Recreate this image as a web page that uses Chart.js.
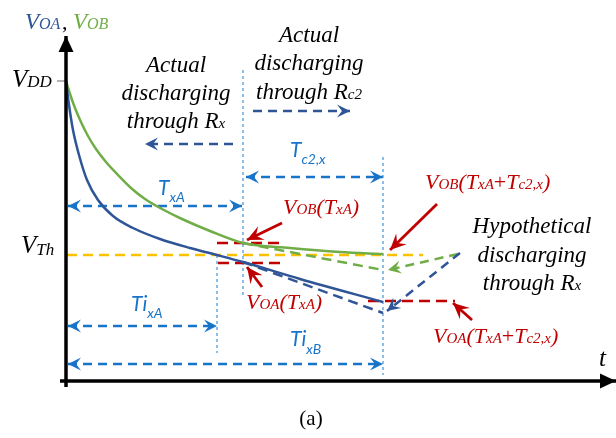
<!DOCTYPE html>
<html><head><meta charset="utf-8">
<script src="https://cdn.jsdelivr.net/npm/chart.js@4"></script>
<style>html,body{margin:0;padding:0;background:#fff;overflow:hidden}</style>
</head><body>
<canvas id="c" width="616" height="438"></canvas>
<script>
// ---- data (time t, voltage v in diagram units) ----
const curveA_t = [0, 3, 7, 13, 21, 32, 47, 67, 94, 124, 151, 177, 234, 317];
const curveA_v = [300, 276, 251, 226, 201, 181, 165, 153, 142, 133, 126, 119, 102, 79];
const curveB_t = [0, 4, 9, 15, 22, 30, 40, 52, 65, 79, 96, 116, 144, 177, 224, 274, 317];
const curveB_v = [300, 287, 273, 259, 245, 232, 219, 206, 193, 182, 172, 162, 150, 138, 133, 129, 127];
const hypoA_t = [177, 317];
const hypoA_v = [119, 68];
const hypoB_t = [177, 317];
const hypoB_v = [138, 111];
const VDD = 300;
const VTH = 126;
const T_XA = 177;      // end of discharge through Rx
const T_END = 317;     // T_xA + T_c2,x
const TI_XA = 151;     // crossing of V_Th by V_OA
const VOB_TXA = 138;
const VOA_TXA = 118;
const VOA_END = 80;
const tickValues = [VDD, VTH];
const tickLabels = ['VDD', 'VTh'];

const COL = {blue:'#2F5597', green:'#70AD47', lblue:'#1874C9', vline:'#3F95DC', red:'#C00000', yellow:'#FFC000'};

function pts(ts, vs){ return ts.map((t,i)=>({x:t, y:vs[i]})); }
function seg(a){ return a.map(p=>({x:p[0], y:p[1]})); }
function ds(data, color, width, dash, extra){
  return Object.assign({data, borderColor:color, backgroundColor:color, borderWidth:width,
    borderDash:dash||[], showLine:true, pointRadius:0, pointHoverRadius:0, tension:0, fill:false}, extra||{});
}

const datasets = [
  // axes
  ds(seg([[0,-6],[0,345]]), '#000', 3.5, [], {arrow:'tri'}),
  ds(seg([[-6,0],[550,0]]), '#000', 3.5, [], {arrow:'tri'}),
  ds(seg([[-9,tickValues[0]],[0,tickValues[0]]]), '#9a9a9a', 1.5),
  // curves
  ds(pts(curveA_t, curveA_v), COL.blue, 2.5, [], {cubicInterpolationMode:'monotone'}),
  ds(pts(curveB_t, curveB_v), COL.green, 2.5, [], {cubicInterpolationMode:'monotone'}),
  ds(pts(hypoA_t, hypoA_v), COL.blue, 2.5, [10,6]),
  ds(pts(hypoB_t, hypoB_v), COL.green, 2.5, [10,6]),
  // threshold
  ds(seg([[1,VTH],[357,VTH]]), COL.yellow, 2.5, [10,6]),
  // red level marks
  ds(seg([[151,VOB_TXA],[217,VOB_TXA]]), COL.red, 2.5, [11,6]),
  ds(seg([[152,VOA_TXA],[219,VOA_TXA]]), COL.red, 2.5, [11,6]),
  ds(seg([[302,VOA_END],[389,VOA_END]]), COL.red, 2.5, [11,6]),
  // vertical guides
  ds(seg([[T_XA,311],[T_XA,86]]), COL.vline, 1.2, [3,3]),
  ds(seg([[TI_XA,VTH],[TI_XA,28]]), COL.vline, 1.2, [3,3]),
  ds(seg([[T_END,224],[T_END,6]]), COL.vline, 1.2, [3,3]),
  // dimension arrows
  ds(seg([[2,175],[T_XA-1,175]]), COL.lblue, 2.5, [9,6], {arrow:'both'}),
  ds(seg([[T_XA+3,204],[T_END,204]]), COL.lblue, 2.5, [9,6], {arrow:'both'}),
  ds(seg([[2,55],[TI_XA,55]]), COL.lblue, 2.5, [9,6], {arrow:'both'}),
  ds(seg([[2,17],[T_END,17]]), COL.lblue, 2.5, [9,6], {arrow:'both'}),
  // direction arrows
  ds(seg([[167,237],[79,237]]), COL.blue, 2.5, [9,6], {arrow:'end'}),
  ds(seg([[187,270],[284,270]]), COL.blue, 2.5, [9,6], {arrow:'end'}),
  ds(seg([[394,128],[321,70]]), COL.blue, 2.5, [9,6], {arrow:'end'}),
  ds(seg([[392,127],[322,111]]), COL.green, 2.5, [9,6], {arrow:'end'}),
  // red pointers
  ds(seg([[216,158],[181,141]]), COL.red, 2.8, [], {arrow:'end', big:true}),
  ds(seg([[196,94],[181,114]]), COL.red, 2.8, [], {arrow:'end', big:true}),
  ds(seg([[371,177],[324,131]]), COL.red, 2.8, [], {arrow:'end', big:true}),
  ds(seg([[406,61],[387,78]]), COL.red, 2.8, [], {arrow:'end', big:true}),
];

function head(ctx, x, y, ang, color, type, big){
  ctx.save();
  ctx.translate(x, y); ctx.rotate(ang);
  ctx.fillStyle = color;
  ctx.beginPath();
  if (type === 'tri') {
    ctx.moveTo(0,0); ctx.lineTo(-16,-7.5); ctx.lineTo(-16,7.5);
  } else {
    const L = big ? 16 : 13, W = big ? 7.5 : 6.5;
    ctx.moveTo(0,0); ctx.lineTo(-L,-W); ctx.lineTo(-L*0.62,0); ctx.lineTo(-L,W);
  }
  ctx.closePath(); ctx.fill();
  ctx.restore();
}

const SERIF = '"Liberation Serif","Times New Roman",serif';
const SANS = 'Lato,"Open Sans",sans-serif';
const I = (t,s,c,dy)=>({t,s,c:c||'#000',dy:dy||0,f:SERIF,st:'italic'});
const N = (t,s,c,dy)=>({t,s,c:c||'#000',dy:dy||0,f:SERIF,st:'normal'});
const S = (t,s,c,dy)=>({t,s,c:c||'#000',dy:dy||0,f:SANS,st:'italic'});

function runs(ctx, x, y, parts, align){
  let w = 0;
  parts.forEach(p=>{ ctx.font = p.st+' '+p.s+'px '+p.f; p.w = ctx.measureText(p.t).width; w += p.w; });
  let cx = align === 'center' ? x - w/2 : x;
  parts.forEach(p=>{ ctx.font = p.st+' '+p.s+'px '+p.f; ctx.fillStyle = p.c; ctx.fillText(p.t, cx, y + p.dy); cx += p.w; });
}

const overlay = {
  id:'overlay',
  afterDatasetsDraw(chart){
    const ctx = chart.ctx;
    chart.data.datasets.forEach((d,i)=>{
      if (!d.arrow) return;
      const el = chart.getDatasetMeta(i).data;
      const n = el.length;
      const a = el[n-2], b = el[n-1];
      head(ctx, b.x, b.y, Math.atan2(b.y-a.y, b.x-a.x), d.borderColor, d.arrow, d.big);
      if (d.arrow === 'both') {
        const p = el[0], q = el[1];
        head(ctx, p.x, p.y, Math.atan2(p.y-q.y, p.x-q.x), d.borderColor, d.arrow, d.big);
      }
    });
    ctx.save();
    ctx.textBaseline = 'alphabetic';
    const B = COL.blue, G = COL.green, R = COL.red, LB = COL.lblue;
    // axis titles
    runs(ctx, 25, 29, [I('V',23,B), I('OA',16,B)]);
    runs(ctx, 62, 29, [N(',',22)]);
    runs(ctx, 73, 29, [I('V',23,G), I('OB',16,G)]);
    runs(ctx, 599, 366, [I('t',25)]);
    // tick labels
    const yx = chart.scales.y;
    runs(ctx, 12, yx.getPixelForValue(tickValues[0]) + 6, [I(tickLabels[0][0],25), I(tickLabels[0].slice(1),17)]);
    runs(ctx, 21, yx.getPixelForValue(tickValues[1]) - 2, [I(tickLabels[1][0],25), I(tickLabels[1].slice(1),17,'#000',2)]);
    // black descriptions
    runs(ctx, 176, 72, [I('Actual',23)], 'center');
    runs(ctx, 176, 100, [I('discharging',23)], 'center');
    runs(ctx, 176, 128, [I('through R',23), I('x',15)], 'center');
    runs(ctx, 309, 42, [I('Actual',23)], 'center');
    runs(ctx, 309, 70, [I('discharging',23)], 'center');
    runs(ctx, 309, 99, [I('through R',23), I('c2',15)], 'center');
    runs(ctx, 532, 233, [I('Hypothetical',23)], 'center');
    runs(ctx, 532, 262, [I('discharging',23)], 'center');
    runs(ctx, 532, 290, [I('through R',23), I('x',15)], 'center');
    // red values
    runs(ctx, 283, 214, [I('V',22,R), I('OB',15,R), I('(',22,R), I('T',22,R), I('xA',15,R), I(')',22,R)]);
    runs(ctx, 246, 309, [I('V',22,R), I('OA',15,R), I('(',22,R), I('T',22,R), I('xA',15,R), I(')',22,R)]);
    runs(ctx, 425, 189, [I('V',22,R), I('OB',15,R), I('(',22,R), I('T',22,R), I('xA',15,R), N('+',22,R), I('T',22,R), I('c2,x',15,R), I(')',22,R)]);
    runs(ctx, 433, 343, [I('V',22,R), I('OA',15,R), I('(',22,R), I('T',22,R), I('xA',15,R), N('+',22,R), I('T',22,R), I('c2,x',15,R), I(')',22,R)]);
    // blue durations
    runs(ctx, 158, 195, [S('T',21,LB), S('xA',14,LB,7)]);
    runs(ctx, 290, 157, [S('T',21,LB), S('c2,x',14,LB,7)]);
    runs(ctx, 131, 311, [S('Ti',21,LB), S('xA',14,LB,7)]);
    runs(ctx, 290, 346, [S('Ti',21,LB), S('xB',14,LB,8)]);
    // caption
    runs(ctx, 311, 425, [N('(a)',21)], 'center');
    ctx.restore();
  }
};

new Chart(document.getElementById('c'), {
  type:'scatter',
  data:{datasets},
  options:{
    responsive:false, animation:false, devicePixelRatio:1,
    layout:{padding:0},
    scales:{
      x:{type:'linear', min:-66, max:550, display:false},
      y:{type:'linear', min:-57, max:381, display:false}
    },
    plugins:{legend:{display:false}, tooltip:{enabled:false}}
  },
  plugins:[overlay]
});
</script>
</body></html>
